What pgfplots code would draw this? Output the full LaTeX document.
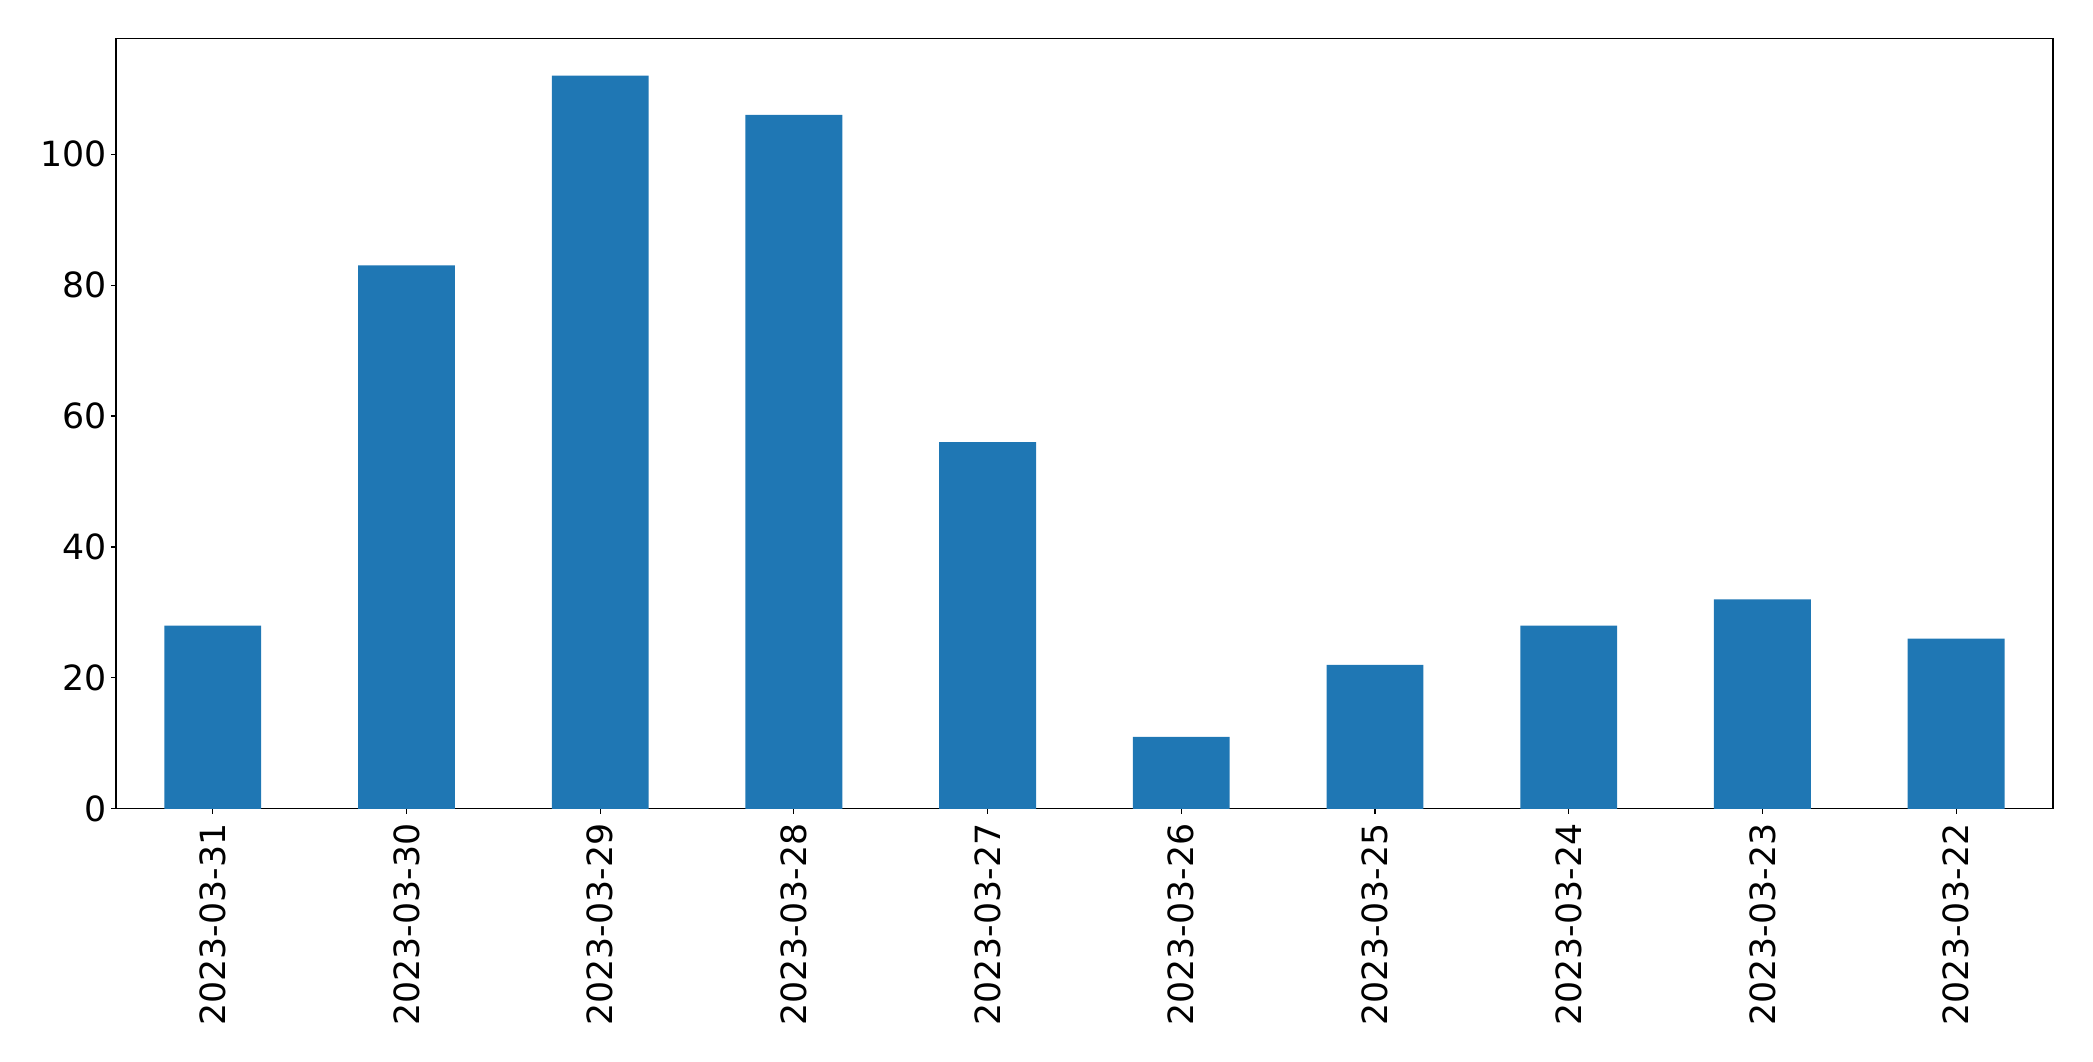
\documentclass[border=0pt]{standalone}
\usepackage{fontspec}
\setmainfont{DejaVu Sans}
\usepackage{pgfplots}
\pgfplotsset{compat=1.18}
\definecolor{mplblue}{HTML}{1F77B4}
\begin{document}
\begin{tikzpicture}
\useasboundingbox (-83.5pt,-181.6pt) rectangle (1423.5pt,582.4pt);
\begin{axis}[
  at={(0,0)}, anchor=south west,
  scale only axis,
  width=1394.6pt, height=554.4pt,
  xmin=-0.5, xmax=9.5,
  ymin=0, ymax=117.6,
  xtick={0,1,2,3,4,5,6,7,8,9},
  xticklabels={2023-03-31,2023-03-30,2023-03-29,2023-03-28,2023-03-27,2023-03-26,2023-03-25,2023-03-24,2023-03-23,2023-03-22},
  ytick={0,20,40,60,80,100},
  tick align=outside,
  major tick length=3.5pt,
  tick style={black, line width=0.8pt},
  axis line style={line width=0.8pt},
  xtick pos=bottom, ytick pos=left,
  /pgf/number format/assume math mode=true,
  tick label style={font=\fontsize{25}{29}\selectfont},
  xticklabel style={rotate=90, anchor=east, inner sep=0pt},
  yticklabel style={anchor=east, inner sep=0pt},
  xticklabel shift=7pt,
  yticklabel shift=3pt,
]
\addplot[ybar, bar width=0.5, fill=mplblue, draw=none] coordinates {
(0,28) (1,83) (2,112) (3,106) (4,56) (5,11) (6,22) (7,28) (8,32) (9,26)
};
\end{axis}
\end{tikzpicture}
\end{document}
